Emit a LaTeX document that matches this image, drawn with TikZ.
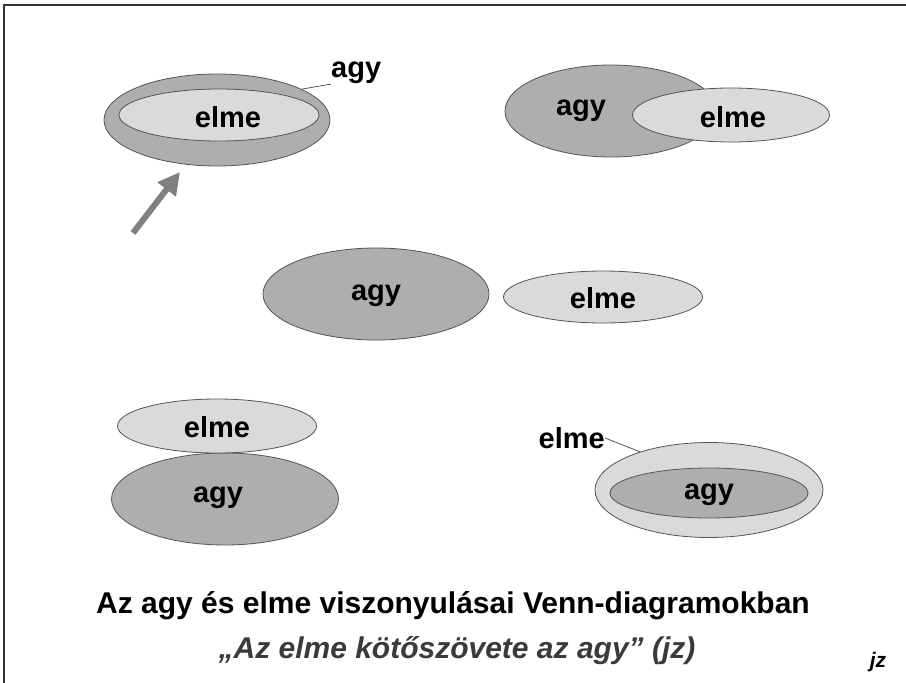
\documentclass[tikz,border=0pt]{standalone}
\usepackage{fontspec}
\setmainfont{Liberation Sans}
\usetikzlibrary{shapes.geometric,arrows.meta}
\definecolor{agyfill}{HTML}{AEAEAE}
\definecolor{elmefill}{HTML}{DADADA}
\definecolor{edge}{HTML}{555555}
\definecolor{subgray}{HTML}{3A3A3A}
\tikzset{
  venn/.style={ellipse, draw=edge, line width=0.8pt, inner sep=0pt, font=\bfseries\fontsize{29}{31}\selectfont},
  agyset/.style={venn, fill=agyfill},
  elmeset/.style={venn, fill=elmefill},
  lbl/.style={inner sep=0pt, font=\bfseries\fontsize{29}{31}\selectfont},
  leader/.style={draw=edge, line width=0.8pt},
}
\begin{document}
\begin{tikzpicture}[x=1pt,y=-1pt]
\useasboundingbox (0,0) rectangle (906,683);
\fill[white] (0,0) rectangle (906,683);
% frame
\coordinate (fl) at (4,683);
\coordinate (fc) at (4,5);
\coordinate (fr) at (906,5);
\draw[line width=1.2pt, black!80] (fl) -- (fc) -- (fr);

% 1: elme inside agy
\node[agyset, minimum width=226pt, minimum height=92pt] (agyA) at (217,120) {};
\node[elmeset, minimum width=200pt, minimum height=52pt] (elmeA) at (219,115) {};
\node[lbl] at (228,117) {elme};
\node[lbl, anchor=west] (agyAl) at (331,73) {agy};
\draw[leader] (agyA.20) -- (agyAl.south west);
\coordinate (arrtail) at (133,233);
\coordinate (arrtip) at (180,172);
\draw[line width=6pt, black!50, -{Triangle[length=22pt,width=22pt]}] (arrtail) -- (arrtip);

% 2: overlapping
\node[agyset, minimum width=212pt, minimum height=92pt] (agyB) at (611,111) {};
\node[elmeset, minimum width=197pt, minimum height=54pt] (elmeB) at (731,115) {};
\node[lbl] at (581,111) {agy};
\node[lbl] at (733,117) {elme};

% 3: separate
\node[agyset, minimum width=226pt, minimum height=92pt] (agyC) at (376,294) {};
\node[lbl] at (376,296) {agy};
\node[elmeset, minimum width=199pt, minimum height=52pt] (elmeC) at (603,297) {};
\node[lbl] at (603,298) {elme};

% 4: touching
\node[agyset, minimum width=227pt, minimum height=92pt] (agyD) at (225,499) {};
\node[elmeset, minimum width=199pt, minimum height=54pt] (elmeD) at (217,426) {};
\node[lbl] at (217,427) {elme};
\node[lbl] at (218,498) {agy};

% 5: agy inside elme
\node[elmeset, minimum width=228pt, minimum height=95pt] (elmeE) at (709,490) {};
\node[agyset, minimum width=198pt, minimum height=50pt] (agyE) at (709,493) {};
\node[lbl] at (709,495) {agy};
\node[lbl, anchor=east] (elmeEl) at (605,438) {elme};
\draw[leader] (elmeE.151) -- (elmeEl.east);

% captions
\node[inner sep=0pt, font=\bfseries\fontsize{30}{32}\selectfont] (title) at (453,606) {Az agy és elme viszonyulásai Venn-diagramokban};
\node[inner sep=0pt, text=subgray, font=\bfseries\itshape\fontsize{30}{32}\selectfont] (sub) at (457,651) {„Az elme kötőszövete az agy” (jz)};
\node[inner sep=0pt, font=\bfseries\itshape\fontsize{21}{23}\selectfont] (sig) at (878,662) {jz};
\end{tikzpicture}
\end{document}
